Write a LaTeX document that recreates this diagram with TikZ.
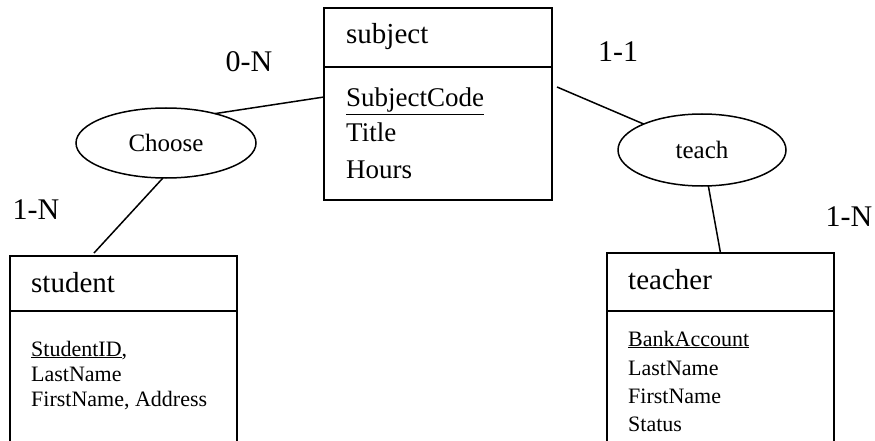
\documentclass[tikz,border=0pt]{standalone}
\usepackage{fontspec}
\setmainfont{Liberation Serif}
\usetikzlibrary{shapes.geometric,calc}

\newcommand{\fsz}[1]{\fontsize{#1}{#1}\selectfont}

\tikzset{
  er/.style={line width=1.5pt, black},
  entitybox/.style={rectangle, inner sep=0pt, outer sep=0pt},
  relation/.style={ellipse, draw, er, inner sep=0pt, outer sep=0pt,
    minimum width=180pt, minimum height=70pt, font=\fsz{25}},
  boxtitle/.style={anchor=base west, inner sep=0pt, font=\fsz{29}},
  attr/.style={anchor=base west, inner sep=0pt, font=\fsz{22}},
  bigattr/.style={anchor=base west, inner sep=0pt, font=\fsz{27}},
  card/.style={inner sep=0pt, font=\fsz{30}},
}

\begin{document}
\begin{tikzpicture}[x=1pt, y=-1pt]
  \useasboundingbox (0,0) rectangle (875,441);

  % entity: subject (closed box)
  \node[entitybox, draw, er, minimum width=228pt, minimum height=192pt] (subject) at (438,104) {};
  \draw[er] (subject.west |- 0,67) -- (subject.east |- 0,67);
  \node[boxtitle] (subjt) at (346,44) {subject};
  \node[bigattr] (subja) at (346,107) {\underline{SubjectCode}};
  \node[bigattr] (subjb) at (346,142) {Title};
  \node[bigattr] (subjc) at (346,178) {Hours};

  % entity: student (runs off the bottom edge)
  \node[entitybox, minimum width=227pt, minimum height=185pt] (student) at (123.5,348.5) {};
  \draw[er] (student.south west) -- (student.north west) -- (student.north east) -- (student.south east);
  \draw[er] (student.west |- 0,311) -- (student.east |- 0,311);
  \node[boxtitle] (studt) at (31,292) {student};
  \node[attr] (studa) at (31,356) {\underline{StudentID},};
  \node[attr] (studb) at (31,381) {LastName};
  \node[attr] (studc) at (31,406) {FirstName, Address};

  % entity: teacher (runs off the bottom edge)
  \node[entitybox, minimum width=227pt, minimum height=188pt] (teacher) at (720.5,347) {};
  \draw[er] (teacher.south west) -- (teacher.north west) -- (teacher.north east) -- (teacher.south east);
  \draw[er] (teacher.west |- 0,311) -- (teacher.east |- 0,311);
  \node[boxtitle] (teacht) at (628,289) {teacher};
  \node[attr] (teacha) at (628,346) {\underline{BankAccount}};
  \node[attr] (teachb) at (628,375) {LastName};
  \node[attr] (teachc) at (628,403) {FirstName};
  \node[attr] (teachd) at (628,431) {Status};

  % relationships
  \node[relation] (choose) at (166,143) {Choose};
  \node[relation, minimum width=168pt, minimum height=72pt] (teach) at (702,150) {teach};

  % connectors
  \draw[er] (choose.31.5) -- ($(subject.west)+(0,-7)$);
  \draw[er] (choose.265) -- ($(student.north)+(-29.5,-3)$);
  \draw[er] ($(subject.east)+(5,-17)$) -- (teach.156.6);
  \draw[er] (teach.-80) -- (teacher.north);

  % cardinalities
  \node[card] (c1) at (249,62) {0-N};
  \node[card] (c2) at (618,52) {1-1};
  \node[card] (c3) at (36,210) {1-N};
  \node[card] (c4) at (849,217) {1-N};
\end{tikzpicture}
\end{document}
